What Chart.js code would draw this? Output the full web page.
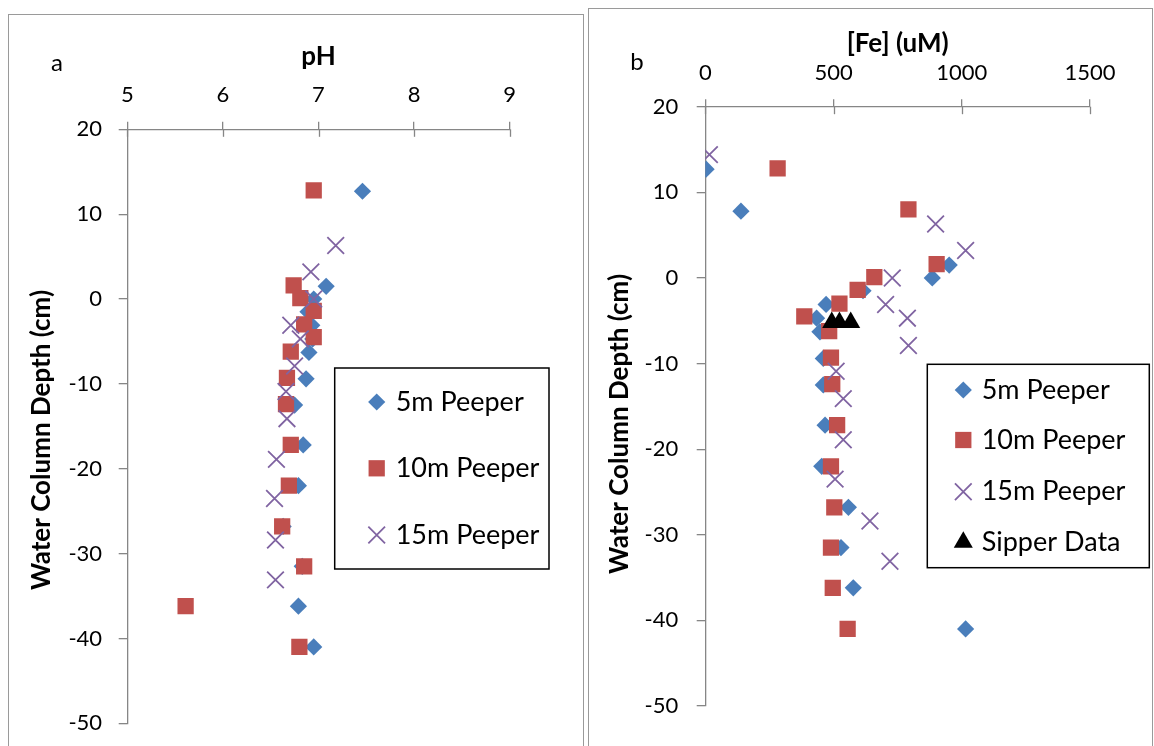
<!DOCTYPE html>
<html>
<head>
<meta charset="utf-8">
<script src="https://cdn.jsdelivr.net/npm/chart.js@4.4.1/dist/chart.umd.min.js"></script>
<style>
  body { margin:0; background:#fff; width:1154px; height:746px; overflow:hidden; position:relative; font-family: Lato, sans-serif; }
  .panel { position:absolute; border:1.5px solid #9a9a9a; box-sizing:border-box; }
  #boxA { left:8px; top:14px; width:576px; height:760px; }
  #boxB { left:588px; top:8px; width:565px; height:760px; }
  .letter { position:absolute; font-size:24px; transform:translate(-50%,-50%); color:#000; }
  .wrap { position:absolute; top:0; }
</style>
</head>
<body>
<div class="panel" id="boxA"></div>
<div class="panel" id="boxB"></div>
<div class="wrap" style="left:0"><canvas id="chartA" width="590" height="746"></canvas></div>
<div class="wrap" style="left:590px"><canvas id="chartB" width="564" height="746"></canvas></div>
<div class="letter" style="left:57px;top:61px">a</div>
<div class="letter" style="left:637px;top:60px">b</div>
<script>
// profundidades (cm) e valores
const depth5  = [12.7, 7.8, 1.5, 0, -1.5, -3.1, -4.7, -6.3, -9.4, -12.5, -17.2, -22.0, -26.8, -31.5, -36.2, -41.0];
const ph5     = [7.46, null, 7.08, 6.95, 6.89, 6.93, 6.94, 6.90, 6.87, 6.75, 6.84, 6.79, 6.63, 6.83, 6.79, 6.95];
const fe5     = [3, 139, 951, 885, 615, 471, 434, 447, 460, 460, 467, 454, 558, 529, 577, 1015];

const depth10 = [12.8, 8.0, 1.6, 0.1, -1.4, -3.0, -4.5, -6.2, -9.3, -12.4, -17.2, -22.0, -26.8, -31.5, -36.2, -41.0];
const ph10    = [6.95, null, 6.74, 6.81, 6.95, 6.85, 6.95, 6.71, 6.67, 6.66, 6.71, 6.69, 6.62, 6.85, 5.61, 6.80];
const fe10    = [282, 792, 902, 659, 594, 523, 386, 483, 490, 495, 514, 490, 503, 490, 497, 555];

const depth15 = [14.4, 6.3, 3.2, 0, -3.1, -4.7, -7.9, -10.9, -14.1, -18.9, -23.5, -28.4, -33.1];
const ph15    = [null, 7.18, 6.92, 6.95, 6.71, 6.81, 6.75, 6.66, 6.67, 6.56, 6.54, 6.55, 6.55];
const fe15    = [16, 898, 1015, 729, 703, 788, 792, 510, 538, 538, 506, 642, 720];

const sipperDepth = [-5.2, -5.2, -5.2];
const sipperFe    = [493, 523, 567];

const seriesNames = ["5m Peeper", "10m Peeper", "15m Peeper", "Sipper Data"];
const phTicks = [5, 6, 7, 8, 9];
const feTicks = [0, 500, 1000, 1500];
const depthTicks = [-50, -40, -30, -20, -10, 0, 10, 20];
const yTitle = "Water Column Depth (cm)";

function pts(xs, ys) {
  return ys.map((y, i) => xs[i] == null ? null : { x: xs[i], y: y }).filter(p => p);
}

const axisGray = "#868686";

// estilos das series (iguais nos dois paineis)
const styles = [
  { pointStyle: "rectRot", pointRadius: 8.6, backgroundColor: "#4a7ebb", borderColor: "#4a7ebb", borderWidth: 0, order: 4 },
  { pointStyle: "rect", pointRadius: 11.5, backgroundColor: "#c0504d", borderColor: "#c0504d", borderWidth: 0, order: 3 },
  { pointStyle: "crossRot", pointRadius: 11.8, backgroundColor: "#8064a2", borderColor: "#8064a2", borderWidth: 1.8, order: 2 },
  { pointStyle: "triangle", pointRadius: 11, backgroundColor: "#000", borderColor: "#000", borderWidth: 0, order: 1 }
];

// legenda com caixa dentro da area do grafico
const boxLegend = {
  id: "boxLegend",
  afterDraw(chart, args, opts) {
    const ctx = chart.ctx;
    ctx.save();
    ctx.strokeStyle = "#000";
    ctx.lineWidth = 1.5;
    ctx.strokeRect(opts.left, opts.top, opts.width, opts.height);
    ctx.font = opts.font;
    ctx.textBaseline = "middle";
    chart.data.datasets.forEach((ds, i) => {
      const y = opts.rows[i];
      ctx.fillStyle = ds.backgroundColor;
      ctx.strokeStyle = ds.borderColor;
      ctx.lineWidth = ds.borderWidth;
      Chart.helpers.drawPoint(ctx, { pointStyle: ds.pointStyle, radius: ds.pointRadius, rotation: 0, borderWidth: ds.borderWidth }, opts.markerX, y);
      ctx.fillStyle = "#000";
      ctx.fillText(ds.label, opts.textX, y);
    });
    ctx.restore();
  }
};

// titulo do eixo y (girado), posicionado como no original
const sideTitle = {
  id: "sideTitle",
  afterDraw(chart, args, opts) {
    const ctx = chart.ctx;
    ctx.save();
    ctx.translate(opts.x, opts.y);
    ctx.rotate(-Math.PI / 2);
    ctx.font = "bold 26px Lato";
    ctx.fillStyle = "#000";
    ctx.textAlign = "center";
    ctx.textBaseline = "middle";
    ctx.fillText(yTitle, 0, 0);
    ctx.restore();
  }
};

// marcas do eixo x que cruzam a linha (estilo Excel)
const crossTicks = {
  id: "crossTicks",
  afterDraw(chart) {
    const xs = chart.scales.x;
    const ctx = chart.ctx;
    ctx.save();
    ctx.strokeStyle = axisGray;
    ctx.lineWidth = 1.3;
    xs.ticks.forEach(t => {
      const px = Math.round(xs.getPixelForValue(t.value)) + 0.5;
      ctx.beginPath();
      ctx.moveTo(px, xs.bottom);
      ctx.lineTo(px, xs.bottom + 7.5);
      ctx.stroke();
    });
    ctx.restore();
  }
};

function makeChart(id, datasets, xCfg, lay, legendOpts, titlePos) {
  return new Chart(document.getElementById(id), {
    type: "scatter",
    data: { datasets: datasets },
    options: {
      responsive: false,
      animation: false,
      events: [],
      layout: { padding: lay.padding },
      plugins: { legend: { display: false }, tooltip: { enabled: false }, boxLegend: legendOpts, sideTitle: titlePos },
      scales: {
        x: {
          type: "linear", position: "top", min: xCfg.min, max: xCfg.max,
          afterBuildTicks: s => { s.ticks = xCfg.ticks.map(v => ({ value: v })); },
          afterFit: s => { s.height = lay.xHeight; s.paddingLeft = 0; s.paddingRight = 0; },
          grid: { display: true, drawOnChartArea: false, drawTicks: true, tickLength: 7.5, color: axisGray, lineWidth: 1.3 },
          border: { display: true, color: axisGray, width: 1.3 },
          ticks: { color: "#000", font: { family: "Lato", size: 22 }, padding: lay.xPad, maxRotation: 0, callback: v => String(v) },
          title: { display: true, text: xCfg.title, color: "#000", padding: 0, font: { family: "Lato", size: 26, weight: "bold" } }
        },
        y: {
          type: "linear", position: "left", min: -50, max: 20,
          afterBuildTicks: s => { s.ticks = depthTicks.map(v => ({ value: v })); },
          afterFit: s => { s.width = lay.yWidth; s.paddingTop = 0; s.paddingBottom = 0; },
          grid: { display: true, drawOnChartArea: false, drawTicks: true, tickLength: 8.6, color: axisGray, lineWidth: 1.3 },
          border: { display: true, color: axisGray, width: 1.3 },
          ticks: { color: "#000", font: { family: "Lato", size: 22 }, padding: lay.yPad, callback: v => String(v) },
          title: { display: false }
        }
      }
    },
    plugins: [boxLegend, crossTicks, sideTitle]
  });
}

// Painel a - pH
const dsA = [
  Object.assign({ label: seriesNames[0], data: pts(ph5, depth5) }, styles[0]),
  Object.assign({ label: seriesNames[1], data: pts(ph10, depth10) }, styles[1]),
  Object.assign({ label: seriesNames[2], data: pts(ph15, depth15) }, styles[2])
];
makeChart("chartA", dsA,
  { min: 5, max: 9, ticks: phTicks, title: "pH" },
  { padding: { left: 26.4, right: 80.3, top: 41.1, bottom: 22.7 }, xHeight: 88.2, yWidth: 100.9, xPad: 14, yPad: 16.6 },
  { left: 334.7, top: 368, width: 214.3, height: 201, markerX: 376.7, textX: 395.7, rows: [402, 468.3, 535], font: "27px Lato" },
  { x: 42, y: 440 });

// Painel b - [Fe]
const dsB = [
  Object.assign({ label: seriesNames[0], data: pts(fe5, depth5) }, styles[0]),
  Object.assign({ label: seriesNames[1], data: pts(fe10, depth10) }, styles[1]),
  Object.assign({ label: seriesNames[2], data: pts(fe15, depth15) }, styles[2]),
  Object.assign({ label: seriesNames[3], data: pts(sipperFe, sipperDepth) }, styles[3])
];
makeChart("chartB", dsB,
  { min: 0, max: 1500, ticks: feTicks, title: "[Fe] (uM)" },
  { padding: { left: 14.4, right: 64, top: 27.7, bottom: 40 }, xHeight: 79, yWidth: 100.9, xPad: 13, yPad: 18.4 },
  { left: 337.3, top: 364.3, width: 222, height: 203.4, markerX: 373.3, textX: 391.7, rows: [390, 440, 491.7, 542.3], font: "27px Lato" },
  { x: 30, y: 424 });
</script>
</body>
</html>
